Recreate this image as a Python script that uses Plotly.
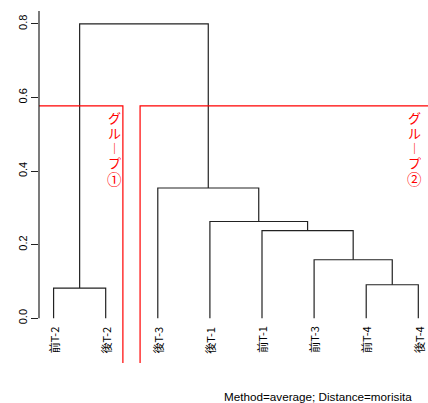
import plotly.graph_objects as go

# Leaf labels in dendrogram order
leaf_labels = ["前T-2", "後T-2", "後T-3", "後T-1", "前T-1", "前T-3", "前T-4", "後T-4"]

# hclust-style merge table: negative = leaf (1-based), positive = earlier merge step
merge_left = [-1, -7, -6, -5, -4, -3, 1]
merge_right = [-2, -8, 2, 3, 4, 5, 6]
merge_height = [0.082, 0.091, 0.159, 0.238, 0.263, 0.354, 0.800]

# y-axis ticks
y_ticks = [0.0, 0.2, 0.4, 0.6, 0.8]
y_ticklabels = ["0.0", "0.2", "0.4", "0.6", "0.8"]

# cut into 2 groups: group membership by leaf index ranges
group_names = ["グループ①", "グループ②"]
group_first_leaf = [1, 3]
group_last_leaf = [2, 8]

caption = "Method=average; Distance=morisita"

x_lo, x_hi = 0.72, 8.186
y_lo, y_hi = -0.1216, 0.835

# Positions of each node
def node_pos(ref, pos):
    if ref < 0:
        return float(-ref), 0.0
    return pos[ref - 1]

xs, ys = [], []
pos = []
for a, b, h in zip(merge_left, merge_right, merge_height):
    xa, ha = node_pos(a, pos)
    xb, hb = node_pos(b, pos)
    xs += [xa, xa, xb, xb, None]
    ys += [ha, h, h, hb, None]
    pos.append(((xa + xb) / 2, h))

fig = go.Figure()
fig.add_trace(go.Scatter(x=xs, y=ys, mode="lines",
                         line=dict(color="#222222", width=1.2),
                         hoverinfo="skip", showlegend=False))

# Red cut rectangles (rect.hclust style)
cut_h = (merge_height[-1] + merge_height[-2]) / 2
for g, (f, l) in enumerate(zip(group_first_leaf, group_last_leaf)):
    left = f - 1 + 0.66
    right = l + 0.33
    fig.add_trace(go.Scatter(
        x=[left, left, right, right], y=[y_lo - 0.05, cut_h, cut_h, y_lo - 0.05],
        mode="lines", line=dict(color="#ff0000", width=1.2),
        hoverinfo="skip", showlegend=False))

annotations = []
for i, lab in enumerate(leaf_labels):
    annotations.append(dict(x=i + 1, y=0, xref="x", yref="y", text=lab,
                            textangle=-90, showarrow=False, xanchor="center",
                            yanchor="top", yshift=-6,
                            font=dict(family="Noto Sans CJK JP", size=11, color="#000")))

# Vertical group labels, one character per row
group_x = [2.16, 7.93]
row_offsets = [13, 28, 43, 58, 74]
for gx, name in zip(group_x, group_names):
    for k, ch in enumerate(name):
        ch = "︱" if ch == "ー" else ch
        size = 14.5 if k == len(name) - 1 else 13
        annotations.append(dict(x=gx, y=cut_h, xref="x", yref="y", text=ch,
                                showarrow=False, xanchor="center", yanchor="middle",
                                yshift=-row_offsets[k],
                                font=dict(family="Liberation Sans, Noto Sans CJK JP",
                                          size=size, color="#ff0000")))

annotations.append(dict(x=(317.5 - 39) / 389, y=0, xref="paper", yref="paper",
                        text=caption, showarrow=False, xanchor="center",
                        yanchor="middle", yshift=-33,
                        font=dict(family="Liberation Sans", size=11.7, color="#000")))

fig.update_layout(
    width=428, height=403,
    margin=dict(l=39, r=0, t=11, b=40),
    plot_bgcolor="white", paper_bgcolor="white",
    showlegend=False,
    annotations=annotations,
    shapes=[dict(type="line", xref="paper", yref="y", x0=0, x1=0,
                 y0=0, y1=y_hi, line=dict(color="#222222", width=1.2))],
    xaxis=dict(range=[x_lo, x_hi], visible=False),
    yaxis=dict(range=[y_lo, y_hi], tickvals=y_ticks, ticktext=y_ticklabels,
               ticks="outside", ticklen=7, tickcolor="#222222", tickwidth=1.2,
               tickangle=-90, showgrid=False, zeroline=False, showline=False,
               tickfont=dict(family="Liberation Sans", size=11, color="#000")),
)

fig.write_html("out.html")
